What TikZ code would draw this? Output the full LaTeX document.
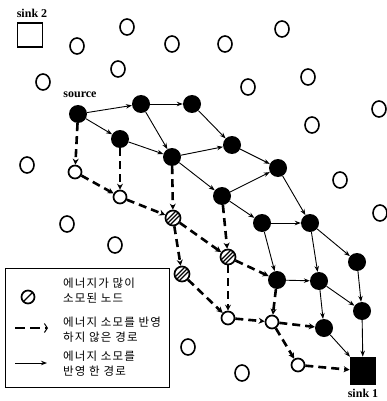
\documentclass[tikz,border=0pt]{standalone}
\usepackage{fontspec}
\setmainfont{Liberation Serif}
\newfontfamily\kr[LetterSpace=10]{Noto Sans CJK KR}
\usetikzlibrary{arrows.meta,shapes.geometric}
\begin{document}
\begin{tikzpicture}[x=1pt,y=-1pt,
 blk/.style={circle,fill=black,minimum size=18pt,inner sep=0pt},
 opn/.style={ellipse,draw,line width=1.6pt,minimum width=14pt,minimum height=16pt,inner sep=0pt},
 pop/.style={circle,draw,line width=1.7pt,fill=white,minimum size=13pt,inner sep=0pt},
 hat/.style={circle,draw,line width=1.7pt,fill=white,minimum size=15pt,inner sep=0pt,
   path picture={\foreach \d in {-4,0,4}{\draw[line width=1.3pt] ([xshift=\d pt]path picture bounding box.south west) -- ([xshift=\d pt]path picture bounding box.north east);}}},
 hatone/.style={circle,draw,line width=1.7pt,minimum size=13pt,inner sep=0pt,
   path picture={\draw[line width=1.4pt] (path picture bounding box.south west) -- (path picture bounding box.north east);}},
 sinkbox/.style={rectangle,draw,line width=1.7pt,minimum width=25pt,minimum height=24pt,inner sep=0pt},
 sol/.style={line width=0.9pt,-{Stealth[length=6pt,width=4.5pt]}},
 dsh/.style={line width=2.6pt,dash pattern=on 8pt off 5pt,-{Stealth[length=6pt,width=6pt]}},
 lbl/.style={font=\bfseries\fontsize{12}{14}\selectfont,inner sep=0pt},
 ktxt/.style={font=\kr\fontsize{11.5}{15}\selectfont,align=left,anchor=west,inner sep=0pt}
]
\useasboundingbox (0,0) rectangle (386,401);

% sinks and labels
\node[sinkbox] (sink2) at (30,35) {};
\node[lbl] (sink2lbl) at (32,13) {sink 2};
\node[sinkbox,fill=black,minimum width=25pt,minimum height=27pt] (sink1) at (363,371) {};
\node[lbl] (sink1lbl) at (363,393) {sink 1};
\node[lbl] (srclbl) at (80,95) {source};

% isolated nodes
\foreach \p [count=\i] in {(127,27),(77,46),(172,44),(118,69),(43,82),(225,44),(282,29),(248,87),(308,77),(379,109),(312,125),(340,180),(380,213),(27,165),(67,224),(115,245),(188,347),(242,373)}
  \node[opn] (iso\i) at \p {};

% black nodes
\node[blk] (S) at (78,114) {};
\node[blk] (B1) at (141,104) {};
\node[blk] (B2) at (192,104) {};
\node[blk] (B3) at (120,139) {};
\node[blk] (B4) at (172,157) {};
\node[blk] (B5) at (232,145) {};
\node[blk] (B6) at (278,168) {};
\node[blk] (B7) at (222,196) {};
\node[blk] (B8) at (262,223) {};
\node[blk] (B9) at (310,223) {};
\node[blk] (B10) at (357,262) {};
\node[blk] (B11) at (277,280) {};
\node[blk] (B12) at (319,281) {};
\node[blk] (B13) at (362,311) {};
\node[blk] (B14) at (324,328) {};

% path open / hatched nodes
\node[pop] (O1) at (75,172) {};
\node[pop] (O2) at (120,197) {};
\node[hat] (H1) at (173,218) {};
\node[hat] (H2) at (228,257) {};
\node[hat] (H3) at (182,274) {};
\node[pop] (O3) at (228,318) {};
\node[pop] (O4) at (272,322) {};
\node[pop] (O5) at (298,365) {};

% solid edges
\foreach \a/\b in {S/B1,S/B3,B1/B2,B1/B4,B3/B4,B2/B5,B4/B5,B5/B6,B4/B7,B7/B6,B7/B8,B6/B9,B8/B9,B8/B11,B9/B12,B9/B10,B11/B12,B12/B13,B10/B13,B12/B14,B14/sink1,B13/sink1}
  \draw[sol] (\a) -- (\b);

% dashed edges
\foreach \a/\b in {S/O1,B3/O2,B4/H1,O1/O2,O2/H1,H1/H2,H1/H3,B7/H2,H2/B11,H3/O3,H2/O3,O3/O4,B11/O4,O4/B14,O4/O5,O5/sink1}
  \draw[dsh] (\a) -- (\b);

% legend
\node[draw,line width=0.9pt,anchor=north west,minimum width=164pt,minimum height=119pt,inner sep=0pt] (legend) at (5,268) {};
\node[hatone] (lhat) at (28,297) {};
\node[ktxt] (t1) at (63,291) {에너지가 많이\\소모된 노드};
\coordinate (ld1) at (15,328);
\coordinate (ld2) at (48,328);
\draw[line width=2.6pt,dash pattern=on 10pt off 5pt,-{Straight Barb[length=3pt,width=9pt,line width=1pt]}] (ld1) -- (ld2);
\node[ktxt] (t2) at (63,330) {에너지 소모를 반영\\하지 않은 경로};
\coordinate (ls1) at (15,363);
\coordinate (ls2) at (47,363);
\draw[sol] (ls1) -- (ls2);
\node[ktxt] (t3) at (63,364) {에너지 소모를\\반영 한 경로};
\end{tikzpicture}
\end{document}
